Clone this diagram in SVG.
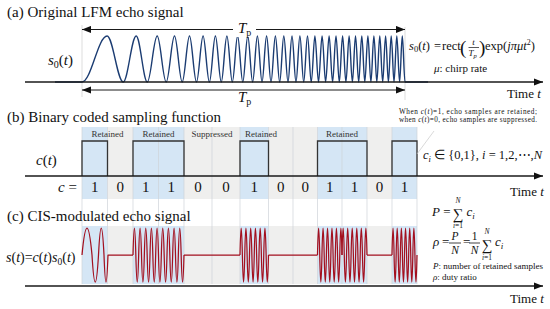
<svg xmlns="http://www.w3.org/2000/svg" width="550" height="309" viewBox="0 0 550 309">
<style>
.t{font-family:"Liberation Serif","Times New Roman",serif;fill:#111}
.i{font-style:italic}
.ttl{font-size:15px}
.lbl{font-size:9px;fill:#333}
.dg{font-size:15px}
.ax{stroke:#1a1a1a;stroke-width:1.3;fill:none}
.dim{stroke:#1a1a1a;stroke-width:1;fill:none}
.grid{stroke:#cfd3d8;stroke-width:0.7}
.b1{fill:#d5e6f5}
.b0{fill:#efefee}
.pulse{stroke:#333;stroke-width:1.3;fill:none}
.red{stroke:#a3101f;stroke-width:1.25;fill:none;stroke-linejoin:round}
</style>
<defs>
<marker id="ah" viewBox="0 0 10 8" refX="10" refY="4" markerWidth="9" markerHeight="8" markerUnits="userSpaceOnUse" orient="auto-start-reverse"><path d="M0,0 L10,4 L0,8 Z" fill="#111"/></marker>
</defs>
<rect width="550" height="309" fill="#fff"/>

<g id="cells">
<g id="cells-b">
<rect class="b1" x="82" y="127" width="25.5" height="72"/>
<rect class="b0" x="107.5" y="127" width="25.5" height="72"/>
<rect class="b1" x="133" y="127" width="51" height="72"/>
<rect class="b0" x="184" y="127" width="56" height="72"/>
<rect class="b1" x="240" y="127" width="28.5" height="72"/>
<rect class="b0" x="268.5" y="127" width="49" height="72"/>
<rect class="b1" x="317.5" y="127" width="49.5" height="72"/>
<rect class="b0" x="367" y="127" width="25" height="72"/>
<rect class="b1" x="392" y="127" width="25" height="72"/>
</g>
<g id="cells-c">
<rect class="b1" x="82" y="226" width="25.5" height="58"/>
<rect class="b0" x="107.5" y="226" width="25.5" height="58"/>
<rect class="b1" x="133" y="226" width="51" height="58"/>
<rect class="b0" x="184" y="226" width="56" height="58"/>
<rect class="b1" x="240" y="226" width="28.5" height="58"/>
<rect class="b0" x="268.5" y="226" width="49" height="58"/>
<rect class="b1" x="317.5" y="226" width="49.5" height="58"/>
<rect class="b0" x="367" y="226" width="25" height="58"/>
<rect class="b1" x="392" y="226" width="25" height="58"/>
</g>
<path class="grid" d="M82,127V284M107.5,127V284M133,127V284M158.5,127V284M184,127V284M212,127V284M240,127V284M268.5,127V284M293,127V284M317.5,127V284M342,127V284M367,127V284M392,127V284M417,127V284"/>
<path stroke="#cfcfcf" stroke-width="0.7" d="M82,25V97M405,27V100"/>
</g>

<g id="panel-a">
<text class="t ttl" x="7" y="17">(a) Original LFM echo signal</text>
<text class="t" x="48" y="65" font-size="15"><tspan class="i">s</tspan><tspan font-size="10" dy="3">0</tspan><tspan dy="-3">(</tspan><tspan class="i">t</tspan>)</text>
<path id="chirp" fill="none" stroke="#1b3c72" stroke-width="1.4" d="M55,82 H82 C91.1,82 98.0,36 107.1,36 C112.9,36 117.4,82 123.2,82 C127.9,82 131.5,36 136.2,36 C140.2,36 143.3,82 147.3,82 C150.9,82 153.6,36 157.2,36 C160.4,36 162.9,82 166.2,82 C169.2,82 171.5,36 174.5,36 C177.3,36 179.4,82 182.2,82 C184.9,82 186.9,36 189.5,36 C192.0,36 193.9,82 196.5,82 C198.9,82 200.7,36 203.1,36 C205.3,36 207.1,82 209.4,82 C211.6,82 213.2,36 215.4,36 C217.5,36 219.1,82 221.3,82 C223.3,82 224.8,36 226.9,36 C228.9,36 230.4,82 232.3,82 C234.3,82 235.7,36 237.6,36 C239.5,36 240.9,82 242.8,82 C244.6,82 245.9,36 247.8,36 C249.5,36 250.9,82 252.6,82 C254.4,82 255.7,36 257.4,36 C259.1,36 260.4,82 262.0,82 C263.7,82 264.9,36 266.6,36 C268.2,36 269.4,82 271.0,82 C272.6,82 273.8,36 275.4,36 C276.9,36 278.1,82 279.7,82 C281.2,82 282.3,36 283.8,36 C285.3,36 286.5,82 288.0,82 C289.4,82 290.5,36 292.0,36 C293.4,36 294.5,82 296.0,82 C297.4,82 298.5,36 299.9,36 C301.3,36 302.3,82 303.7,82 C305.1,82 306.1,36 307.5,36 C308.9,36 309.9,82 311.2,82 C312.6,82 313.6,36 314.9,36 C316.2,36 317.2,82 318.5,82 C319.8,82 320.8,36 322.1,36 C323.4,36 324.4,82 325.6,82 C326.9,82 327.9,36 329.1,36 C330.4,36 331.3,82 332.6,82 C333.8,82 334.7,36 336.0,36 C337.2,36 338.1,82 339.3,82 C340.5,82 341.4,36 342.6,36 C343.8,36 344.7,82 345.9,82 C347.1,82 348.0,36 349.1,36 C350.3,36 351.2,82 352.4,82 C353.5,82 354.4,36 355.5,36 C356.7,36 357.5,82 358.7,82 C359.8,82 360.6,36 361.8,36 C362.9,36 363.7,82 364.8,82 C365.9,82 366.8,36 367.9,36 C369.0,36 369.8,82 370.9,82 C372.0,82 372.8,36 373.9,36 C375.0,36 375.8,82 376.8,82 C377.9,82 378.7,36 379.8,36 C380.8,36 381.6,82 382.7,82 C383.7,82 384.5,36 385.6,36 C386.6,36 387.4,82 388.4,82 C389.4,82 390.2,36 391.2,36 C392.3,36 393.0,82 394.0,82 C395.0,82 395.8,36 396.8,36 C397.8,36 398.6,82 399.6,82 C400.6,82 401.3,36 402.3,36 C403.3,36 404.0,82 405.0,82 H428"/>
<rect x="233" y="21" width="23" height="16" fill="#fff"/>
<text class="t" x="238" y="33" font-size="15"><tspan class="i">T</tspan><tspan font-size="10" dy="3">p</tspan></text>
<text class="t" x="238" y="102" font-size="15"><tspan class="i">T</tspan><tspan font-size="10" dy="3">p</tspan></text>
<text class="t" x="409" y="50" font-size="12.5"><tspan class="i">s</tspan><tspan font-size="8.5" dy="2">0</tspan><tspan dy="-2">(</tspan><tspan class="i">t</tspan>)</text>
<text class="t" x="434" y="50" font-size="12.5">=</text>
<text class="t" x="442" y="50" font-size="12.5">rect</text>
<text class="t" x="460" y="54" font-size="19">(</text>
<text class="t i" x="473.5" y="45" font-size="9" text-anchor="middle">t</text>
<path d="M468.5,47.5H479" stroke="#111" stroke-width="0.7"/>
<text class="t" x="468.5" y="56" font-size="9"><tspan class="i">T</tspan><tspan font-size="6.5" dy="1.5" class="i">p</tspan></text>
<text class="t" x="479" y="54" font-size="19">)</text>
<text class="t" x="485" y="50" font-size="12.5">exp(<tspan class="i">jπμt</tspan><tspan font-size="8" dy="-5">2</tspan><tspan dy="5">)</tspan></text>
<text class="t" x="434" y="72" font-size="11"><tspan class="i">μ</tspan>: chirp rate</text>
<text class="t" x="507" y="98" font-size="13">Time <tspan class="i">t</tspan></text>
</g>

<g id="panel-b">
<text class="t ttl" x="7" y="121.5">(b) Binary coded sampling function</text>
<g class="t lbl" text-anchor="middle">
<text x="107.5" y="137">Retained</text>
<text x="158.5" y="137">Retained</text>
<text x="212" y="137">Suppressed</text>
<text x="261" y="137">Retained</text>
<text x="342" y="137">Retained</text>
</g>
<text class="t" x="36" y="165" font-size="15"><tspan class="i">c</tspan>(<tspan class="i">t</tspan>)</text>
<path class="pulse" d="M82,176V141H107.5V176M133,176V141H184V176M240,176V141H268.5V176M317.5,176V141H367V176M392,176V141H417V176"/>
<text class="t" x="58" y="192" font-size="15"><tspan class="i">c</tspan> =</text>
<g class="t dg" text-anchor="middle">
<text x="94.75" y="192">1</text>
<text x="120.25" y="192">0</text>
<text x="145.75" y="192">1</text>
<text x="171.25" y="192">1</text>
<text x="198" y="192">0</text>
<text x="226" y="192">0</text>
<text x="254.25" y="192">1</text>
<text x="280.75" y="192">0</text>
<text x="305.25" y="192">0</text>
<text x="329.75" y="192">1</text>
<text x="354.5" y="192">1</text>
<text x="379.5" y="192">0</text>
<text x="404.5" y="192">1</text>
</g>
<text class="t" x="399" y="113.5" font-size="7.2" textLength="138">When <tspan class="i">c</tspan>(<tspan class="i">t</tspan>)=1, echo samples are retained;</text>
<text class="t" x="399" y="121.5" font-size="7.2" textLength="138">when <tspan class="i">c</tspan>(<tspan class="i">t</tspan>)=0, echo samples are suppressed.</text>
<path d="M417,154L434,131" stroke="#c8c8c8" stroke-width="0.7"/>
<text class="t" x="423" y="159" font-size="12.5"><tspan class="i">c</tspan><tspan font-size="8.5" dy="2.5" class="i">i</tspan><tspan dy="-2.5"> ∈ {0,1}, </tspan><tspan class="i">i</tspan> = 1,2,⋯,<tspan class="i">N</tspan></text>
<text class="t" x="510" y="196" font-size="13">Time <tspan class="i">t</tspan></text>
</g>

<g id="panel-c">
<text class="t ttl" x="7" y="221">(c) CIS-modulated echo signal</text>
<text class="t" x="6" y="262" font-size="14"><tspan class="i">s</tspan>(<tspan class="i">t</tspan>)=<tspan class="i">c</tspan>(<tspan class="i">t</tspan>)<tspan class="i">s</tspan><tspan font-size="9.5" dy="3">0</tspan><tspan dy="-3">(</tspan><tspan class="i">t</tspan>)</text>
<path class="red" d="M82,255 Q87,201 92,255 Q95.25,309 98.5,255 Q101.25,201 104,255 Q106,309 108,255 H133 M184,255 H240 M268.5,255 H317.5 M367,255 H392"/>
<path class="red" d="M133,255 q1.4167,-54 2.8333,0 t2.8333,0 t2.8333,0 t2.8333,0 t2.8333,0 t2.8333,0 t2.8333,0 t2.8333,0 t2.8333,0 t2.8333,0 t2.8333,0 t2.8333,0 t2.8333,0 t2.8333,0 t2.8333,0 t2.8333,0 t2.8333,0 t2.8333,0"/>
<path class="red" d="M240,255 q1.1875,-54 2.375,0 t2.375,0 t2.375,0 t2.375,0 t2.375,0 t2.375,0 t2.375,0 t2.375,0 t2.375,0 t2.375,0 t2.375,0 t2.375,0"/>
<path class="red" d="M317.5,255 q1.1136,-54 2.2273,0 t2.2273,0 t2.2273,0 t2.2273,0 t2.2273,0 t2.2273,0 t2.2273,0 t2.2273,0 t2.2273,0 t2.2273,0 t2.2273,0"/>
<path class="red" d="M342,255 q1.1364,-54 2.2727,0 t2.2727,0 t2.2727,0 t2.2727,0 t2.2727,0 t2.2727,0 t2.2727,0 t2.2727,0 t2.2727,0 t2.2727,0 t2.2727,0"/>
<path class="red" d="M392,255 q1.0417,-54 2.0833,0 t2.0833,0 t2.0833,0 t2.0833,0 t2.0833,0 t2.0833,0 t2.0833,0 t2.0833,0 t2.0833,0 t2.0833,0 t2.0833,0 t2.0833,0"/>
<text class="t" x="432" y="216" font-size="13"><tspan class="i">P</tspan> =</text>
<text class="t" x="452.5" y="219" font-size="15">∑</text>
<text class="t i" x="458" y="203" font-size="7.5" text-anchor="middle">N</text>
<text class="t" x="458" y="228" font-size="7.5" text-anchor="middle"><tspan class="i">i</tspan>=1</text>
<text class="t i" x="466.5" y="216" font-size="13">c<tspan font-size="9" dy="2.5">i</tspan></text>
<text class="t i" x="433" y="246" font-size="13">ρ</text>
<text class="t" x="442" y="246" font-size="13">=</text>
<text class="t i" x="455" y="240" font-size="11.5" text-anchor="middle">P</text>
<path d="M449,243H461M469,243H480" stroke="#111" stroke-width="0.8"/>
<text class="t i" x="455" y="254" font-size="11.5" text-anchor="middle">N</text>
<text class="t" x="463" y="246" font-size="13">=</text>
<text class="t" x="474.5" y="240" font-size="11.5" text-anchor="middle">1</text>
<text class="t i" x="474.5" y="254" font-size="11.5" text-anchor="middle">N</text>
<text class="t" x="481.5" y="250" font-size="15">∑</text>
<text class="t i" x="487" y="234" font-size="7.5" text-anchor="middle">N</text>
<text class="t" x="487" y="260" font-size="7.5" text-anchor="middle"><tspan class="i">i</tspan>=1</text>
<text class="t i" x="495" y="246" font-size="13">c<tspan font-size="9" dy="2.5">i</tspan></text>
<text class="t" x="433" y="269" font-size="9"><tspan class="i">P</tspan>: number of retained samples</text>
<text class="t" x="433" y="280" font-size="9"><tspan class="i">ρ</tspan>: duty ratio</text>
<text class="t" x="510" y="303" font-size="13">Time <tspan class="i">t</tspan></text>
</g>

<g id="connectors">
<path class="ax" d="M25,82H543" marker-end="url(#ah)"/>
<path class="ax" d="M25,176H543" marker-end="url(#ah)"/>
<path class="ax" d="M25,286H543" marker-end="url(#ah)"/>
<path class="dim" d="M82,29.5H233M256,29.5H405"/>
<path class="dim" d="M82,29.5H92" marker-start="url(#ah)"/>
<path class="dim" d="M395,29.5H405" marker-end="url(#ah)"/>
<path class="dim" d="M82,90H405" marker-start="url(#ah)" marker-end="url(#ah)"/>
</g>
</svg>
